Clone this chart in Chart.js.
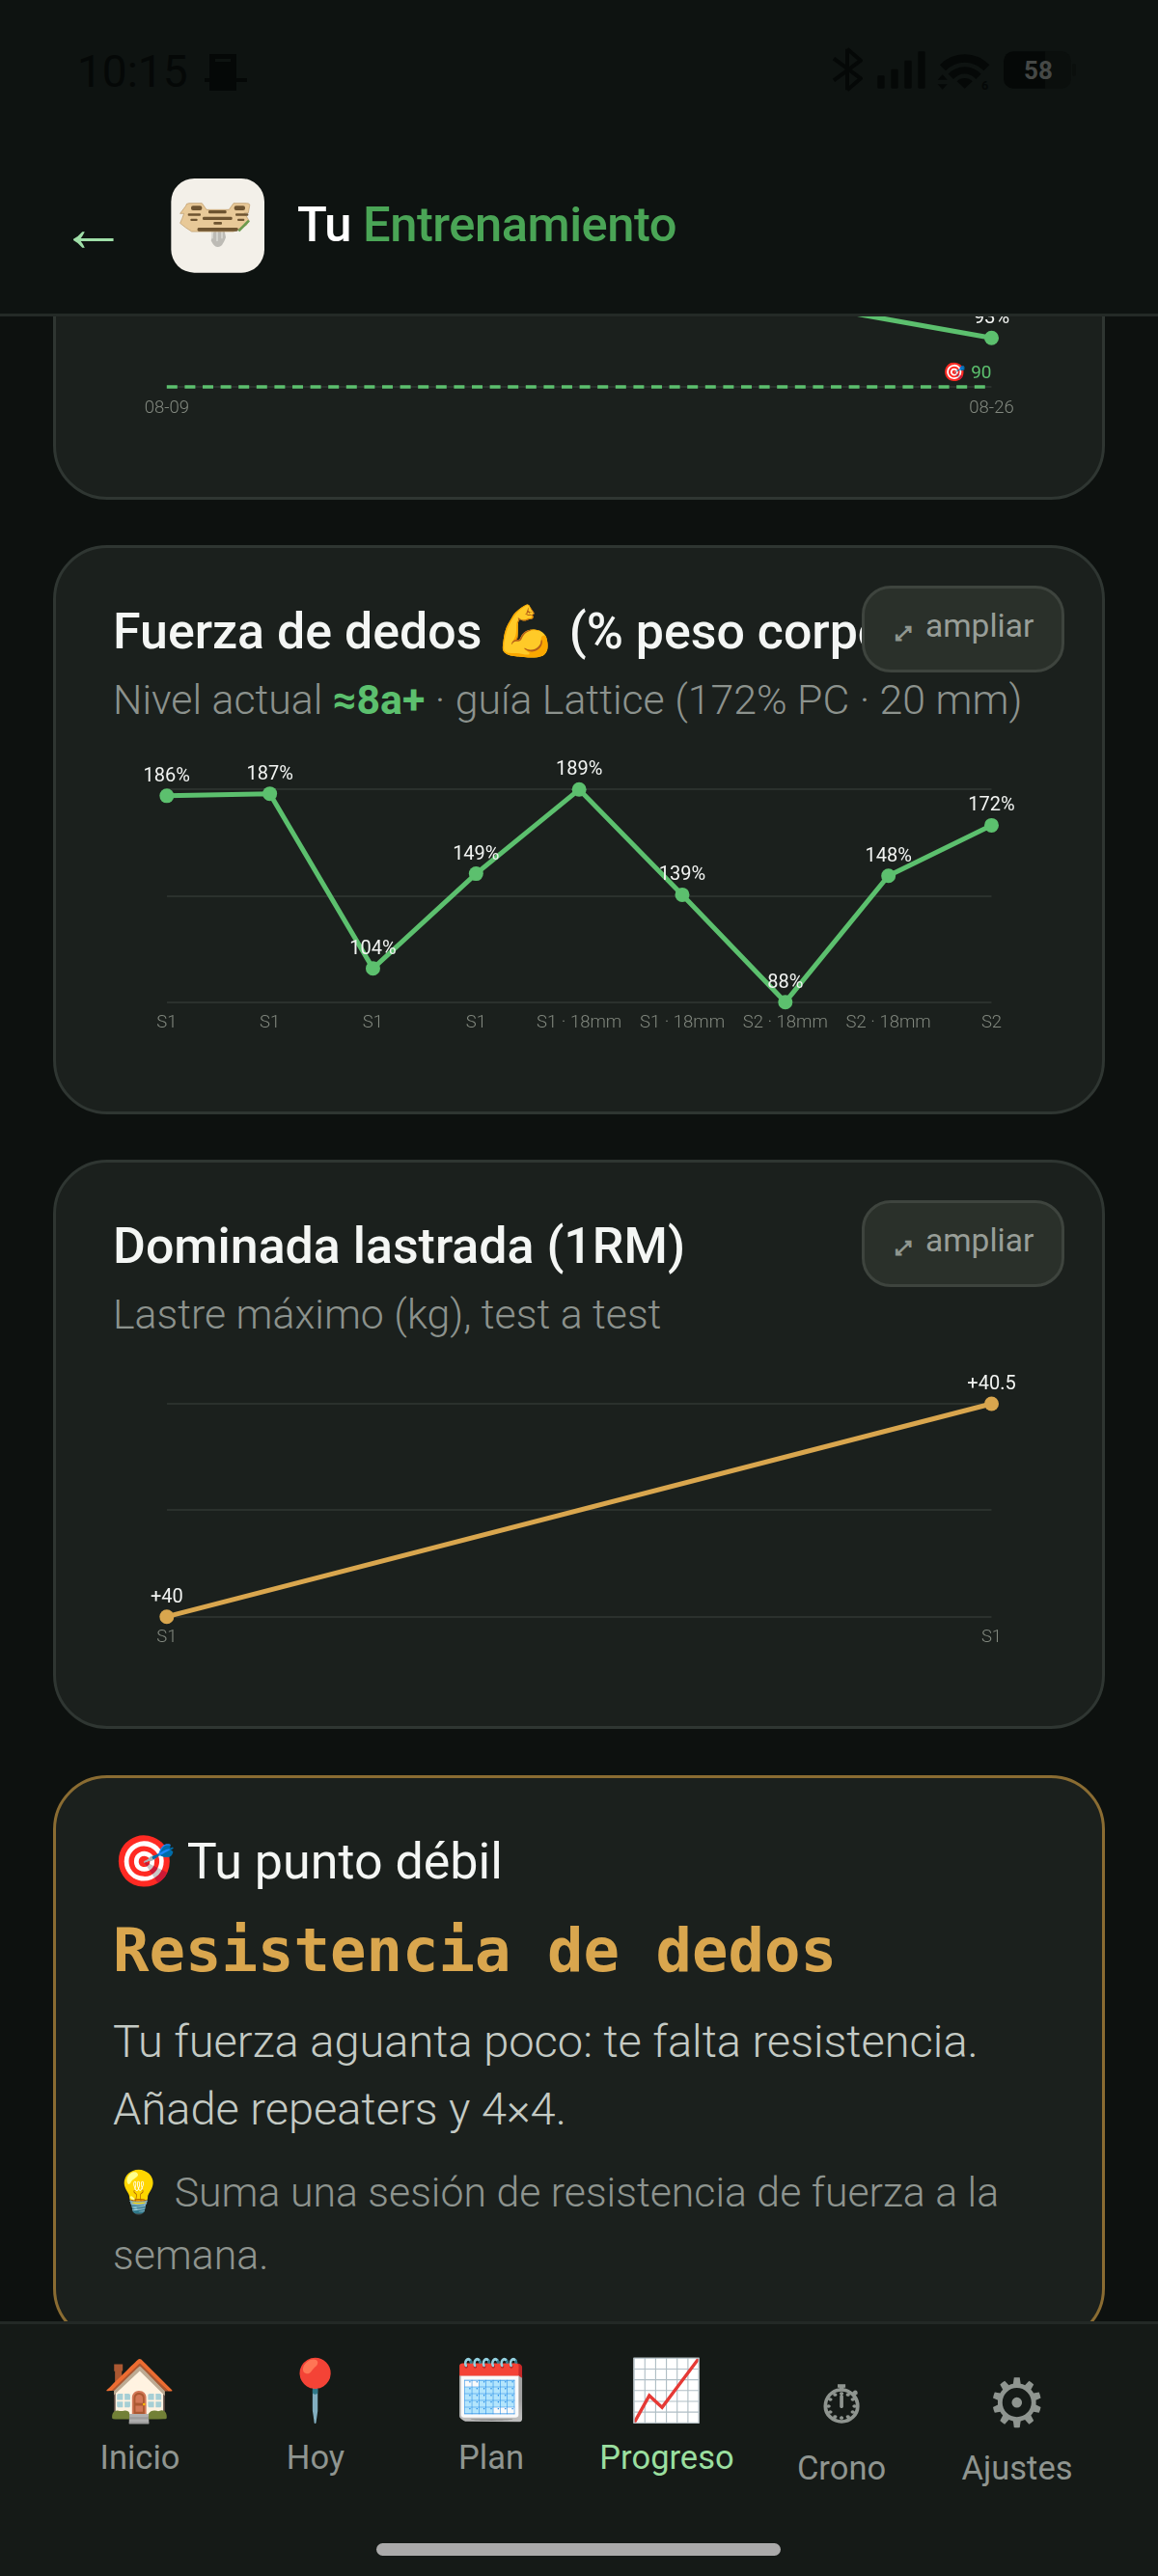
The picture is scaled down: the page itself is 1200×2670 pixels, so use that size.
<!DOCTYPE html>
<html lang="es"><head><meta charset="utf-8">
<script src="https://cdn.jsdelivr.net/npm/chart.js@4"></script>
<style>
html,body{margin:0;padding:0;background:#0d110f;width:1200px;height:2670px;overflow:hidden;font-family:Roboto,'Noto Color Emoji',sans-serif}
.abs,.t{position:absolute}
.t{white-space:nowrap;line-height:1;transform:translateY(-50%)}
.card{position:absolute;left:55px;width:1084px;background:#1b201d;border:3px solid #2f3632;border-radius:56px;box-sizing:content-box}
.ttl{font-size:51.9px;font-weight:500;color:#f4f6f4;left:117px}
.sub{font-size:42.8px;font-weight:300;color:#8c928d;left:117px}
.btn{position:absolute;left:893px;width:204px;height:84px;background:#2a302a;border:3px solid #3e443e;border-radius:30px;color:#989e98;font-size:33.5px;z-index:2}
.btn i{position:absolute;left:32px;top:36px;font-style:normal;font-size:20px;line-height:1;font-family:'DejaVu Sans';color:#8f968f;-webkit-text-stroke:1.5px #8f968f}
.btn b{position:absolute;left:63px;top:22px;font-weight:400;line-height:1}
canvas{position:absolute;left:0;top:0}
.cw{position:absolute;left:119px;width:962px}
.nav{position:absolute;left:0;top:2406px;width:1200px;height:264px;background:#151a17;border-top:3px solid #232926;box-sizing:border-box;z-index:5}
.hdr{position:absolute;left:0;top:0;width:1200px;height:328px;background:#0e1311;border-bottom:3px solid #242a27;box-sizing:border-box;z-index:5}
.ni{position:absolute;transform:translate(-50%,-50%);line-height:1;white-space:nowrap}
.nl{font-size:34.5px;color:#8f9590}
</style></head><body>

<div class="card" style="top:-100px;height:612px"></div>
<div class="cw" style="top:150px;height:300px"><canvas id="c0"></canvas></div>

<div class="card" style="top:565px;height:584px"></div>
<div class="t ttl" style="top:655px;left:117px">Fuerza de dedos 💪 (% peso corporal)</div>
<div class="btn" style="top:607px"><i>⤢</i><b>ampliar</b></div>
<div class="t sub" style="top:725px">Nivel actual <span style="color:#5cc06e;font-weight:700">≈8a+</span> · guía Lattice (172% PC · 20 mm)</div>
<div class="cw" style="top:775px;height:320px"><canvas id="c1"></canvas></div>

<div class="card" style="top:1202px;height:584px"></div>
<div class="t ttl" style="top:1292px">Dominada lastrada (1RM)</div>
<div class="btn" style="top:1244px"><i>⤢</i><b>ampliar</b></div>
<div class="t sub" style="top:1362px">Lastre máximo (kg), test a test</div>
<div class="cw" style="top:1412px;height:320px"><canvas id="c2"></canvas></div>

<div class="card" style="top:1840px;height:582px;border-color:#8a6c32"></div>
<div class="t" style="top:1930px;left:117px;font-size:52px;color:#f4f6f4">🎯 Tu punto débil</div>
<div class="t" style="top:2022px;left:117px;font-size:62.3px;font-weight:700;color:#d9a64e;font-family:'DejaVu Sans Mono'">Resistencia de dedos</div>
<div class="t" style="top:2115px;left:117px;font-size:47px;font-weight:300;color:#c4cac4">Tu fuerza aguanta poco: te falta resistencia.</div>
<div class="t" style="top:2185px;left:117px;font-size:47px;font-weight:300;color:#c4cac4">Añade repeaters y 4×4.</div>
<div class="t" style="top:2272px;left:117px;font-size:42.8px;font-weight:300;color:#8e948f">💡 Suma una sesión de resistencia de fuerza a la</div>
<div class="t" style="top:2337px;left:117px;font-size:42.8px;font-weight:300;color:#8e948f">semana.</div>

<div class="hdr">
  <div class="t" style="left:80px;top:74px;font-size:46px;color:#050807">10:15</div>
  <svg class="abs" style="left:212px;top:55px" width="46" height="40" viewBox="0 0 46 40"><rect x="5" y="1" width="28" height="38" fill="#050807"/><rect x="11" y="6" width="16" height="3" fill="#0e1311"/><rect x="0" y="26" width="44" height="4" fill="#050807"/></svg>
  <svg class="abs" style="left:850px;top:40px" width="280" height="70" viewBox="0 0 840 210" fill="#050807">
    <path d="M84 32 L126 68 L42 130 M84 160 L126 124 L42 62 M84 32 V160" fill="none" stroke="#050807" stroke-width="12" stroke-linejoin="round"/>
    <rect x="178" y="115" width="22" height="40" rx="4"/><rect x="220" y="95" width="22" height="60" rx="4"/><rect x="262" y="68" width="22" height="87" rx="4"/><rect x="304" y="40" width="22" height="115" rx="4"/>
    <path d="M372 82 a105 105 0 0 1 154 0 l-18 18 a80 80 0 0 0 -118 0z"/>
    <path d="M398 110 a70 70 0 0 1 102 0 l-16 16 a46 46 0 0 0 -70 0z"/>
    <path d="M425 133 a34 34 0 0 1 48 0 l-24 22z"/>
    <path d="M380 112 l15 16 h-30z M380 158 l15 -16 h-30z"/>
    <text x="512" y="158" font-family="Roboto" font-weight="700" font-size="38" text-anchor="middle">6</text>
    <path d="M600 40 H700 V155 H600 a30 30 0 0 1 -30 -30 V70 a30 30 0 0 1 30 -30z"/>
    <path d="M700 40 H750 a30 30 0 0 1 30 30 V125 a30 30 0 0 1 -30 30 H700z" fill="#0b0f0d"/>
    <rect x="784" y="78" width="10" height="38" rx="4" fill="#0b0f0d"/>
    <text x="678" y="125" font-family="Roboto" font-weight="700" font-size="78" fill="#454846" text-anchor="middle">58</text>
  </svg>
  <div class="t" style="left:62px;top:236px;font-size:70px;color:#9fdfa8;font-family:'Liberation Sans'">←</div>
  <svg class="abs" style="left:170px;top:180px" width="110" height="110" viewBox="0 0 330 330">
    <rect x="22" y="15" width="290" height="293" rx="72" fill="#f3f0e9"/>
    <path d="M158 168 l-12 40 q10 22 22 20 q14 0 24 -30 l-6 -30z" fill="#8f8f8a" opacity=".55"/>
    <path d="M150 172 v30 M165 172 v38 M180 172 v30" stroke="#d8d8d2" stroke-width="5"/>
    <path d="M68 100 q0 -8 10 -8 h40 l14 20 h70 l14 -20 h40 q12 0 10 8 l-4 22 h-12 l14 24 -8 14 q-14 6 -40 20 h-130 q-20 -12 -36 -26 l6 -14 6 -16 h-12z" fill="#e8c998" stroke="#b99662" stroke-width="2"/>
    <rect x="84" y="100" width="34" height="14" rx="6" fill="#6e5431"/><rect x="218" y="100" width="34" height="14" rx="6" fill="#6e5431"/>
    <rect x="138" y="114" width="56" height="10" rx="4" fill="#6e5431"/><rect x="120" y="134" width="92" height="10" rx="4" fill="#6e5431"/>
    <rect x="74" y="124" width="40" height="7" rx="3" fill="#6e5431"/><rect x="222" y="124" width="40" height="7" rx="3" fill="#6e5431"/>
    <rect x="82" y="140" width="22" height="7" rx="3" fill="#6e5431"/><rect x="228" y="140" width="22" height="7" rx="3" fill="#6e5431"/>
    <rect x="154" y="150" width="26" height="8" rx="3" fill="#6e5431"/><rect x="104" y="168" width="126" height="11" rx="4" fill="#6e5431"/>
    <path d="M232 178 l32 -32" stroke="#6b9a4d" stroke-width="8"/>
  </svg>
  <div class="t" style="left:308px;top:233px;font-size:50.7px;font-weight:500;letter-spacing:-.5px;color:#fff">Tu <span style="color:#4aa556">Entrenamiento</span></div>
</div>

<div class="nav">
  <div class="ni" style="left:145px;top:69px;font-size:62px">🏠</div>
  <div class="ni" style="left:327px;top:69px;font-size:62px">📍</div>
  <div class="ni" style="left:509px;top:69px;font-size:62px">🗓️</div>
  <div class="ni" style="left:691px;top:69px;font-size:62px">📈</div>
  <div class="ni" style="left:872px;top:84px;font-size:54px;color:#8f9590;font-family:'DejaVu Sans';-webkit-text-stroke:1.5px #8f9590">⏱&#xFE0E;</div>
  <div class="ni" style="left:1054px;top:82px;font-size:70px;color:#8f9590;font-family:'DejaVu Sans'">⚙&#xFE0E;</div>
  <div class="ni nl" style="left:145px;top:138px">Inicio</div>
  <div class="ni nl" style="left:327px;top:138px">Hoy</div>
  <div class="ni nl" style="left:509px;top:138px">Plan</div>
  <div class="ni nl" style="left:691px;top:138px;color:#9adf9f">Progreso</div>
  <div class="ni nl" style="left:872px;top:149px">Crono</div>
  <div class="ni nl" style="left:1054px;top:149px">Ajustes</div>
  <div class="abs" style="left:390px;top:227px;width:419px;height:13px;border-radius:7px;background:#aaaaaa"></div>
</div>

<script>
// Data
const pesoDates = ['08-09', '08-26'];
const pesoValues = [102, 93];
const pesoTarget = [90, 90];
const pesoRange = [90, 103];

const fuerzaLabels = ['S1', 'S1', 'S1', 'S1', 'S1 · 18mm', 'S1 · 18mm', 'S2 · 18mm', 'S2 · 18mm', 'S2'];
const fuerzaValues = [186, 187, 104, 149, 189, 139, 88, 148, 172];
const fuerzaRange = [88, 189];

const dominadaLabels = ['S1', 'S1'];
const dominadaValues = [40, 40.5];
const dominadaRange = [40, 40.5];

const GREEN = '#5cc06e', GOLD = '#d9a64e';

const pointLabels = {
  id: 'pointLabels',
  afterDatasetsDraw(chart, args, opts) {
    const { ctx } = chart;
    const ds = chart.data.datasets[0];
    const meta = chart.getDatasetMeta(0);
    ctx.save();
    ctx.font = '400 20px Roboto';
    ctx.fillStyle = '#f2f4f2';
    ctx.textAlign = 'center';
    ctx.textBaseline = 'middle';
    meta.data.forEach((pt, i) => ctx.fillText(opts.fmt(ds.data[i]), pt.x, pt.y - 20));
    if (opts.target) {
      const tm = chart.getDatasetMeta(1).data;
      const last = tm[tm.length - 1];
      ctx.textAlign = 'right';
      ctx.fillStyle = GREEN;
      ctx.font = '400 19px Roboto, "Noto Color Emoji"';
      ctx.fillText('🎯 ' + chart.data.datasets[1].data[tm.length - 1], last.x, last.y - 14);
    }
    ctx.restore();
  }
};

function makeChart(id, labels, datasets, range, fmt, target, topPad, h) {
  const cv = document.getElementById(id);
  return new Chart(cv, {
    type: 'line',
    data: { labels, datasets },
    plugins: [pointLabels],
    options: {
      responsive: false, animation: false, devicePixelRatio: 1,
      layout: { padding: { left: 53.8, right: 53.5, top: topPad, bottom: 0 }, autoPadding: false },
      events: [],
      plugins: { legend: { display: false }, tooltip: { enabled: false }, pointLabels: { fmt, target } },
      scales: {
        x: {
          grid: { display: false }, border: { display: false },
          afterFit(s) { s.height = h; },
          ticks: { color: '#82887f', font: { size: 18.5, weight: 300, family: 'Roboto' }, padding: 3, maxRotation: 0, autoSkip: false }
        },
        y: {
          min: range[0], max: range[1],
          afterFit(s) { s.width = 0; },
          grid: { color: '#2b312d', lineWidth: 2, drawTicks: false }, border: { display: false },
          ticks: { display: false, count: 3 }
        }
      }
    }
  });
}
function size(id, w, h) { const c = document.getElementById(id); c.width = w; c.height = h; c.style.width = w + 'px'; c.style.height = h + 'px'; }
const line = (data, color) => ({ data, borderColor: color, backgroundColor: color, borderWidth: 5, pointRadius: 7.5, pointHoverRadius: 7.5, pointBorderWidth: 0, tension: 0, clip: false, fill: false });

size('c0', 962, 300); size('c1', 962, 320); size('c2', 962, 320);
makeChart('c0', pesoDates, [
  line(pesoValues, GREEN),
  { data: pesoTarget, borderColor: GREEN, borderWidth: 3.5, borderDash: [11, 7.6], pointRadius: 0, clip: false, fill: false }
], pesoRange, v => v + '%', true, 31, 49);
makeChart('c1', fuerzaLabels, [line(fuerzaValues, GREEN)], fuerzaRange, v => v + '%', false, 43.3, 56.3);
makeChart('c2', dominadaLabels, [line(dominadaValues, GOLD)], dominadaRange, v => '+' + v, false, 43, 56.3);
</script>
</body></html>
